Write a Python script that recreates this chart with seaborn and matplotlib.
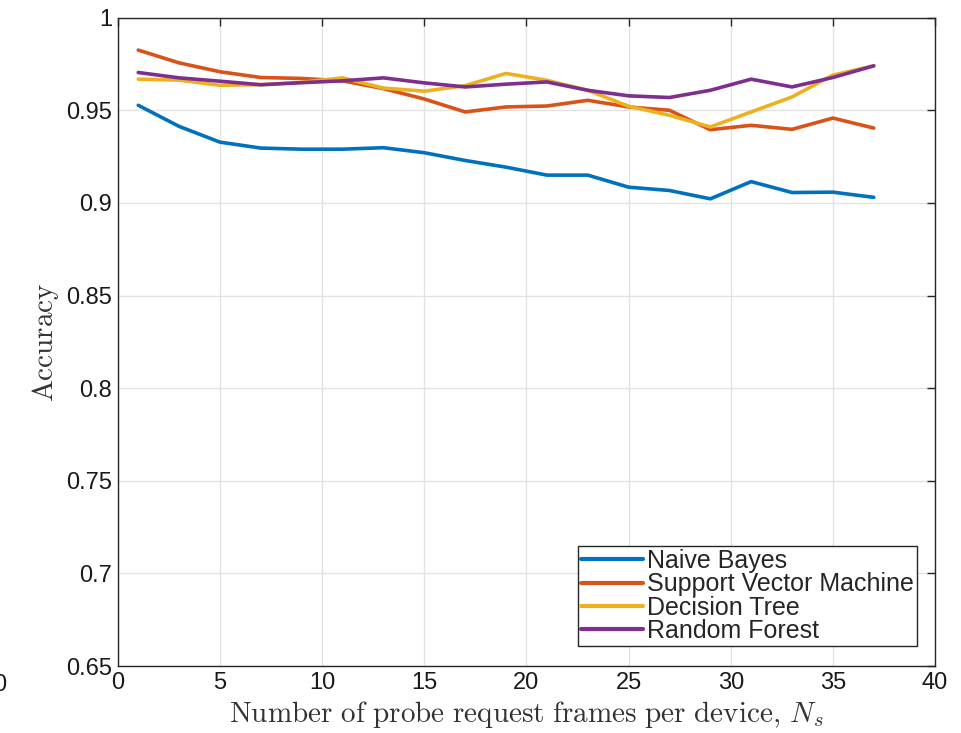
import numpy as np
import pandas as pd
import matplotlib
matplotlib.use("Agg")
import matplotlib.pyplot as plt
from matplotlib.ticker import FuncFormatter
import seaborn as sns

# Number of probe request frames per device
frames = [1, 3, 5, 7, 9, 11, 13, 15, 17, 19, 21, 23, 25, 27, 29, 31, 33, 35, 37]

naive_bayes = [0.9527, 0.9413, 0.9328, 0.9296, 0.9290, 0.9290, 0.9298, 0.9271, 0.9229, 0.9193,
               0.9150, 0.9150, 0.9085, 0.9067, 0.9022, 0.9115, 0.9056, 0.9058, 0.9030]
svm = [0.9825, 0.9756, 0.9708, 0.9677, 0.9672, 0.9659, 0.9617, 0.9561, 0.9491, 0.9518,
       0.9523, 0.9554, 0.9518, 0.9500, 0.9395, 0.9419, 0.9397, 0.9458, 0.9404]
decision_tree = [0.9668, 0.9663, 0.9635, 0.9638, 0.9651, 0.9675, 0.9620, 0.9603, 0.9633, 0.9699,
                 0.9662, 0.9608, 0.9522, 0.9473, 0.9410, 0.9491, 0.9572, 0.9690, 0.9740]
random_forest = [0.9704, 0.9675, 0.9657, 0.9638, 0.9649, 0.9659, 0.9675, 0.9648, 0.9626, 0.9641,
                 0.9653, 0.9608, 0.9578, 0.9569, 0.9608, 0.9668, 0.9626, 0.9677, 0.9740]

classifiers = ["Naive Bayes", "Support Vector Machine", "Decision Tree", "Random Forest"]
colors = ["#0072BD", "#D95319", "#EDB120", "#7E2F8E"]

x_ticks = [0, 5, 10, 15, 20, 25, 30, 35, 40]
y_ticks = [0.65, 0.7, 0.75, 0.8, 0.85, 0.9, 0.95, 1.0]

df = pd.DataFrame({
    "frames": frames * 4,
    "accuracy": naive_bayes + svm + decision_tree + random_forest,
    "classifier": np.repeat(classifiers, len(frames)),
})

sns.set_theme(style="white")
plt.rcParams["font.family"] = ["Liberation Sans", "DejaVu Sans"]
plt.rcParams["mathtext.fontset"] = "cm"

fig = plt.figure(figsize=(9.61, 7.33), dpi=100)
ax = fig.add_axes([0.1226, 0.0914, 0.8504, 0.8845])

sns.lineplot(data=df, x="frames", y="accuracy", hue="classifier", hue_order=classifiers,
             palette=colors, linewidth=2.6, ax=ax, legend=False)

ax.set_xlim(0, 40)
ax.set_ylim(0.65, 1.0)
ax.set_xticks(x_ticks)
ax.set_yticks(y_ticks)
ax.yaxis.set_major_formatter(FuncFormatter(lambda v, p: f"{v:g}"))
ax.grid(True, color="#e3e3e3", linewidth=1.0)
ax.set_axisbelow(True)

for s in ax.spines.values():
    s.set_color("#262626")
    s.set_linewidth(1.0)
ax.tick_params(axis="both", which="major", direction="in", length=6, width=1.0,
               color="#262626", labelsize=17, labelcolor="#1a1a1a",
               top=True, right=True, pad=4)

ax.set_xlabel(r"$\mathrm{Number\ of\ probe\ request\ frames\ per\ device,}\,N_s$",
              fontsize=21, color="#333333", labelpad=4)
ax.set_ylabel(r"$\mathrm{Accuracy}$", fontsize=21, color="#333333", labelpad=4)

handles = [plt.Line2D([], [], color=c, linewidth=3.0) for c in colors]
leg = ax.legend(handles, classifiers, loc="lower right",
                bbox_to_anchor=(0.978, 0.031), borderaxespad=0,
                fontsize=18, frameon=True, fancybox=False,
                edgecolor="#262626", framealpha=1.0,
                labelspacing=-0.03, handlelength=2.5, handletextpad=0.15,
                borderpad=0.12)
leg.get_frame().set_linewidth(1.0)

fig.text(0.0, 0.0655, "0", fontsize=17, ha="center", va="center", color="#1a1a1a")

fig.savefig("out.png", dpi=100)
